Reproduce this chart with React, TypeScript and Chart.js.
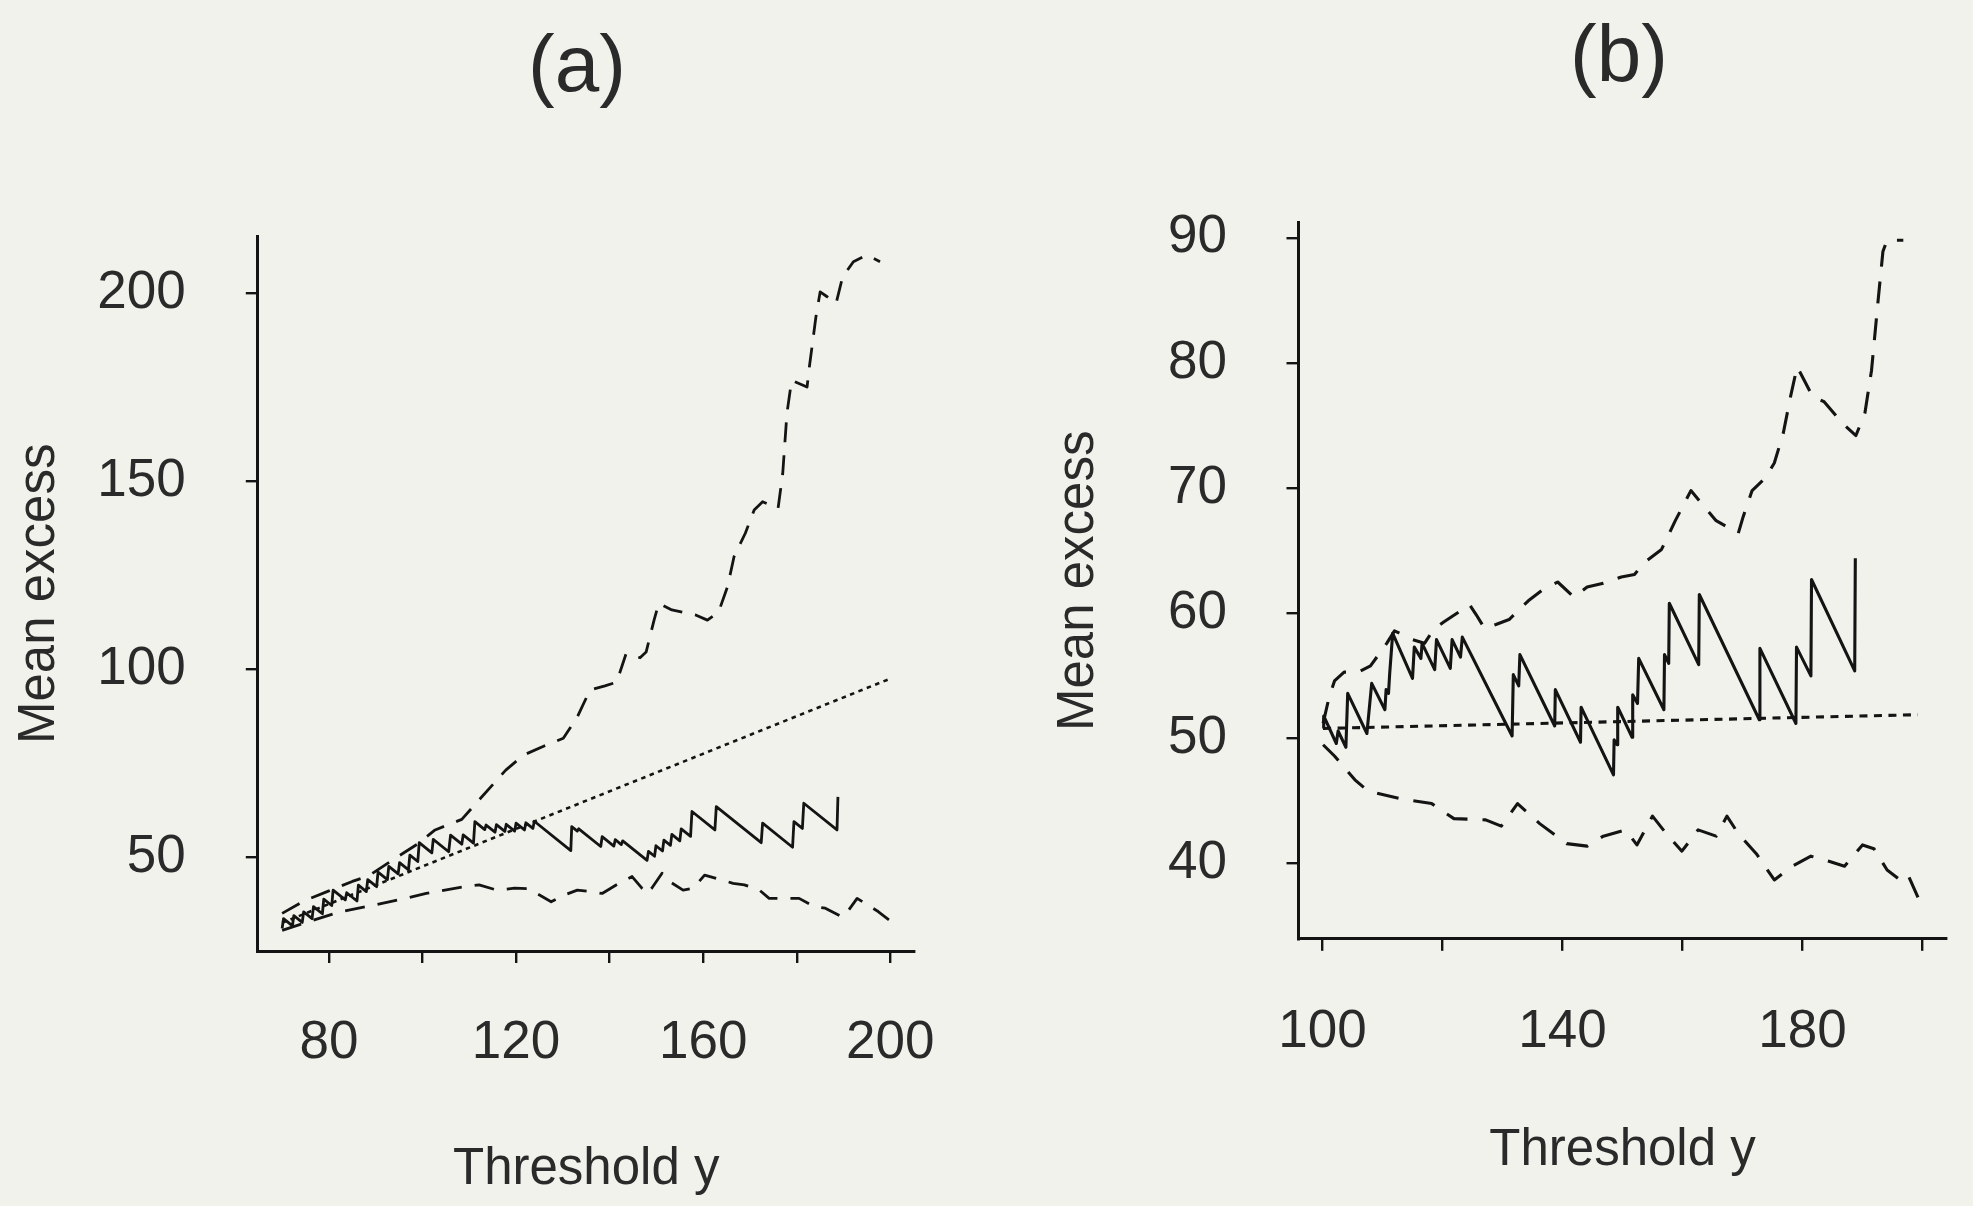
import React, { useEffect, useRef } from 'react';
import { Chart, registerables } from 'chart.js';

Chart.register(...registerables);

// ---------- Panel (a) data ----------
const aSolidX = [70.0, 70.3, 72.2, 72.5, 74.3, 74.6, 76.4, 76.7, 78.6, 78.9, 80.6, 80.9, 83.5, 83.8, 86.0, 86.3, 88.0, 88.3, 90.2, 90.5, 92.5, 92.8, 94.8, 95.1, 97.0, 97.3, 99.0, 99.3, 102.0, 102.3, 105.6, 106.0, 108.4, 108.7, 110.9, 111.2, 113.3, 113.6, 115.5, 115.8, 117.6, 117.9, 119.7, 120.0, 121.8, 122.1, 123.6, 123.9, 131.7, 131.9, 133.1, 133.4, 138.1, 138.4, 140.9, 141.2, 142.5, 142.8, 148.0, 148.3, 149.6, 149.9, 151.3, 151.6, 153.0, 153.3, 155.0, 155.3, 157.3, 157.6, 162.5, 162.8, 172.4, 172.7, 179.1, 179.4, 181.2, 181.5, 188.6, 188.8];
const aSolidY = [31.0, 33.6, 31.7, 34.4, 32.6, 35.4, 33.6, 36.8, 34.9, 38.8, 37.1, 41.2, 38.6, 40.5, 38.3, 42.5, 40.8, 44.0, 42.1, 46.0, 44.0, 47.5, 45.5, 48.5, 46.6, 50.5, 48.8, 53.8, 51.1, 54.7, 51.4, 55.8, 53.4, 55.9, 53.7, 59.4, 57.3, 58.5, 56.6, 58.6, 56.8, 58.7, 56.9, 59.0, 57.2, 59.1, 57.6, 59.5, 51.7, 58.1, 56.9, 57.5, 52.8, 55.4, 52.9, 54.6, 53.3, 54.3, 49.1, 51.5, 50.2, 53.0, 51.6, 54.5, 53.1, 56.0, 54.3, 57.5, 55.5, 62.1, 57.2, 63.4, 53.8, 59.0, 52.6, 59.4, 57.6, 64.3, 57.2, 66.0];

const aUpperX = [70, 75, 80, 85, 88.5, 94, 99, 102.7, 108.4, 112.1, 117.8, 121.6, 126, 130.1, 133, 135.8, 139, 141.5, 143.5, 146.5, 147.8, 149.5, 150.5, 153.3, 158.5, 160.9, 163.3, 165.2, 166.6, 169, 170.9, 172.7, 176, 177, 177.9, 178.9, 182.2, 182.7, 184.1, 185, 186.5, 188.4, 189.8, 192.1, 195, 197.8];
const aUpperY = [35, 38.5, 41, 43.5, 45, 49.5, 53.5, 57.2, 60, 65.2, 73.1, 77.1, 79.5, 81.6, 87, 94.4, 95.5, 96.5, 104, 103, 104.5, 113, 117.5, 115.7, 114.3, 113, 115.2, 121.9, 129.9, 136.1, 142.3, 144.5, 142.7, 152, 168, 176.8, 175, 180.4, 193.7, 200.3, 199, 197.2, 204.3, 208.3, 210.1, 208.3];

const aLowerX = [70, 75.2, 82, 90, 96.4, 100.8, 108.4, 112.1, 115.9, 119.7, 122.6, 127.5, 130.3, 133.1, 135.9, 138.4, 142, 144.8, 146.9, 148, 149, 151.2, 152.9, 155.7, 157.9, 160.3, 162.8, 166.4, 168.8, 172, 174.1, 177.3, 180.5, 183.7, 186.1, 189.7, 191.1, 192.9, 197.4, 199.7];
const aLowerY = [30.5, 32.6, 35.3, 37.3, 39, 40.3, 42, 42.6, 41.2, 41.7, 41.6, 38.1, 39.9, 41.2, 40.8, 40.3, 43, 44.8, 41.7, 40.3, 41.7, 45.7, 43.4, 41.2, 41.7, 45.2, 44.3, 43, 42.6, 41.2, 39, 39, 39, 36.8, 36.4, 34.1, 35.9, 39, 35.5, 33.3];

const aDottedX = [70, 199.5];
const aDottedY = [32.5, 97.2];

const aXTicks = [80, 100, 120, 140, 160, 180, 200];
const aXLabeled = [80, 120, 160, 200];
const aYTicks = [50, 100, 150, 200];

// ---------- Panel (b) data ----------
const bSolidX = [100.1, 100.2, 102.3, 102.6, 103.9, 104.2, 107.4, 108.2, 110.4, 110.6, 111.0, 111.2, 111.7, 115.0, 115.3, 116.4, 116.6, 118.7, 119.0, 121.3, 121.6, 123.0, 123.3, 131.6, 131.8, 132.7, 132.9, 138.7, 138.8, 143.0, 143.1, 148.5, 148.6, 149.1, 149.2, 151.6, 151.7, 152.5, 152.7, 156.9, 157.0, 157.7, 157.8, 162.7, 162.8, 172.8, 172.9, 178.9, 179.0, 181.4, 181.5, 188.7, 188.8];
const bSolidY = [50.8, 51.8, 49.6, 50.6, 49.3, 53.6, 50.4, 54.4, 52.3, 53.9, 53.6, 55.2, 58.4, 54.8, 57.3, 56.4, 57.6, 55.5, 57.9, 55.6, 57.9, 56.5, 58.1, 50.2, 55.1, 54.2, 56.7, 51.0, 53.9, 49.7, 52.5, 47.1, 49.9, 49.5, 52.5, 50.1, 53.5, 52.8, 56.4, 52.3, 56.7, 56.0, 60.8, 55.9, 61.5, 51.5, 57.2, 51.2, 57.3, 55.0, 62.7, 55.4, 64.4];

const bUpperX = [100.1, 101.1, 102, 103.6, 106, 108, 110.7, 112, 115, 117, 118.5, 120.2, 122.4, 124.5, 125.6, 127, 128.9, 131.1, 134.3, 136.5, 139.2, 141.9, 144.1, 146.8, 149.8, 152, 153.5, 156.5, 158.8, 161.4, 165.6, 169.3, 170.1, 171.6, 173.8, 175.3, 176.8, 178, 179.1, 181.7, 183.6, 186.6, 188.9, 190.4, 191.5, 192.6, 193.4, 194.1, 196.8];
const bUpperY = [51.2, 53.3, 54.6, 55.3, 55.3, 55.8, 57.6, 58.6, 57.9, 57.6, 58.7, 59.3, 60, 60.7, 59.9, 58.8, 59.1, 59.5, 61, 61.8, 62.5, 61.3, 62.1, 62.4, 62.9, 63.1, 64, 65.1, 67.4, 69.8, 67.4, 66.4, 67.7, 69.8, 70.8, 72, 74.4, 77.3, 79.7, 77.3, 76.9, 75.2, 74.2, 76, 79.4, 85, 88.9, 89.8, 89.8];

const bLowerX = [100.1, 102, 105.4, 107.6, 112.9, 118.2, 121.9, 127.2, 129.8, 132.5, 136.2, 140.7, 144.1, 146.8, 150.5, 152.4, 155, 157.3, 159.9, 162.6, 165.6, 167.4, 169.3, 172.3, 175.3, 178.3, 181.4, 184.4, 187, 190, 191.9, 194.1, 196, 197.5, 199.8];
const bLowerY = [49.5, 48.6, 46.7, 45.8, 45.2, 44.8, 43.6, 43.5, 43, 44.8, 43.2, 41.6, 41.4, 42.2, 42.7, 41.5, 43.8, 42.4, 41, 42.7, 42.2, 43.8, 42.4, 40.8, 38.7, 39.8, 40.6, 40.2, 39.8, 41.5, 41.2, 39.5, 38.8, 39.2, 36.7];

const bDottedX = [100.1, 199.2];
const bDottedY = [50.8, 51.9];

const bXTicks = [100, 120, 140, 160, 180, 200];
const bXLabeled = [100, 140, 180];
const bYTicks = [40, 50, 60, 70, 80, 90];

// ---------- styling ----------
const FONT = '"Liberation Sans", Arial, Helvetica, sans-serif';
const INK = '#141414';
const TEXT = '#2a2a2a';
const PAPER = '#f2f2ec';

const pts = (xs: number[], ys: number[]) => xs.map((x, i) => ({ x, y: ys[i] }));

function lineDs(xs: number[], ys: number[], dash: number[], width: number) {
  return {
    data: pts(xs, ys),
    borderColor: INK,
    borderWidth: width,
    borderDash: dash,
    borderCapStyle: 'butt',
    borderJoinStyle: 'round',
    pointRadius: 0,
    pointHoverRadius: 0,
    tension: 0,
    fill: false,
  };
}

type Spec = {
  padTop: number;
  padRight: number;
  yAxisW: number;
  xAxisH: number;
  xMin: number;
  xMax: number;
  xTicks: number[];
  xLabeled: number[];
  yMin: number;
  yMax: number;
  yTicks: number[];
  xLabelPad: number;
  yLabelPad: number;
  xTitlePad: number;
  yTitlePad: number;
  datasets: any[];
  label: string;
  labelX: number;
  labelY: number;
};

function makeConfig(s: Spec): any {
  const tickFont = { family: FONT, size: 53 };
  const titleFont = { family: FONT, size: 51 };
  const panelLabel = {
    id: 'panelLabel',
    afterDraw(chart: any) {
      const ctx = chart.ctx;
      ctx.save();
      ctx.font = `80px ${FONT}`;
      ctx.fillStyle = TEXT;
      ctx.textAlign = 'center';
      ctx.textBaseline = 'alphabetic';
      ctx.fillText(s.label, s.labelX, s.labelY);
      ctx.restore();
    },
  };
  return {
    type: 'line',
    data: { datasets: s.datasets },
    plugins: [panelLabel],
    options: {
      animation: false,
      responsive: false,
      maintainAspectRatio: false,
      events: [],
      layout: { padding: { top: s.padTop, right: s.padRight, left: 0, bottom: 0 } },
      plugins: {
        legend: { display: false },
        tooltip: { enabled: false },
        title: { display: false },
      },
      scales: {
        x: {
          type: 'linear',
          position: 'bottom',
          min: s.xMin,
          max: s.xMax,
          afterBuildTicks: (scale: any) => {
            scale.ticks = s.xTicks.map((v) => ({ value: v }));
          },
          afterFit: (scale: any) => {
            scale.height = s.xAxisH;
          },
          ticks: {
            autoSkip: false,
            maxRotation: 0,
            minRotation: 0,
            padding: s.xLabelPad,
            color: TEXT,
            font: tickFont,
            callback: (v: number) => (s.xLabeled.includes(Math.round(v)) ? String(Math.round(v)) : ''),
          },
          grid: {
            drawOnChartArea: false,
            drawTicks: true,
            tickLength: 12,
            color: INK,
            lineWidth: 2.4,
          },
          border: { display: true, color: INK, width: 3 },
          title: {
            display: true,
            text: 'Threshold y',
            color: TEXT,
            font: titleFont,
            padding: { top: 0, bottom: s.xTitlePad },
          },
        },
        y: {
          type: 'linear',
          position: 'left',
          min: s.yMin,
          max: s.yMax,
          afterBuildTicks: (scale: any) => {
            scale.ticks = s.yTicks.map((v) => ({ value: v }));
          },
          afterFit: (scale: any) => {
            scale.width = s.yAxisW;
          },
          ticks: {
            autoSkip: false,
            padding: s.yLabelPad,
            color: TEXT,
            font: tickFont,
            callback: (v: number) => String(Math.round(v)),
          },
          grid: {
            drawOnChartArea: false,
            drawTicks: true,
            tickLength: 12,
            color: INK,
            lineWidth: 2.4,
          },
          border: { display: true, color: INK, width: 3 },
          title: {
            display: true,
            text: 'Mean excess',
            color: TEXT,
            font: titleFont,
            padding: { top: s.yTitlePad, bottom: 0 },
          },
        },
      },
    },
  };
}

const W = 1973;
const H = 1206;
const A_W = 986;
const B_W = W - A_W;

export default function App() {
  const refA = useRef<HTMLCanvasElement | null>(null);
  const refB = useRef<HTMLCanvasElement | null>(null);

  useEffect(() => {
    if (!refA.current || !refB.current) return;
    const chartA = new Chart(
      refA.current,
      makeConfig({
        padTop: 236.6,
        padRight: A_W - 919.8,
        yAxisW: 257.8,
        xAxisH: H - 951,
        xMin: 64.8,
        xMax: 205.2,
        xTicks: aXTicks,
        xLabeled: aXLabeled,
        yMin: 25,
        yMax: 215,
        yTicks: aYTicks,
        xLabelPad: 49,
        yLabelPad: 60,
        xTitlePad: 5,
        yTitlePad: 9,
        datasets: [
          lineDs(aSolidX, aSolidY, [], 2.8),
          lineDs(aUpperX, aUpperY, [20, 13], 2.8),
          lineDs(aLowerX, aLowerY, [20, 13], 2.8),
          lineDs(aDottedX, aDottedY, [4.5, 4.5], 2.6),
        ],
        label: '(a)',
        labelX: 577,
        labelY: 91,
      })
    );
    const chartB = new Chart(
      refB.current,
      makeConfig({
        padTop: 222.7,
        padRight: B_W - (1960 - A_W),
        yAxisW: 1298.5 - A_W,
        xAxisH: H - 938.8,
        xMin: 96,
        xMax: 204,
        xTicks: bXTicks,
        xLabeled: bXLabeled,
        yMin: 34,
        yMax: 91.2,
        yTicks: bYTicks,
        xLabelPad: 50,
        yLabelPad: 59.5,
        xTitlePad: 24,
        yTitlePad: 62,
        datasets: [
          lineDs(bSolidX, bSolidY, [], 3.1),
          lineDs(bUpperX, bUpperY, [22, 15], 3.1),
          lineDs(bLowerX, bLowerY, [22, 15], 3.1),
          lineDs(bDottedX, bDottedY, [8, 6.5], 3.1),
        ],
        label: '(b)',
        labelX: 1619 - A_W,
        labelY: 81,
      })
    );
    return () => {
      chartA.destroy();
      chartB.destroy();
    };
  }, []);

  return (
    <div
      style={{
        position: 'absolute',
        left: 0,
        top: 0,
        width: W,
        height: H,
        background: PAPER,
        overflow: 'hidden',
      }}
    >
      <canvas
        ref={refA}
        width={A_W}
        height={H}
        style={{ position: 'absolute', left: 0, top: 0, width: A_W, height: H, display: 'block' }}
      />
      <canvas
        ref={refB}
        width={B_W}
        height={H}
        style={{ position: 'absolute', left: A_W, top: 0, width: B_W, height: H, display: 'block' }}
      />
    </div>
  );
}
